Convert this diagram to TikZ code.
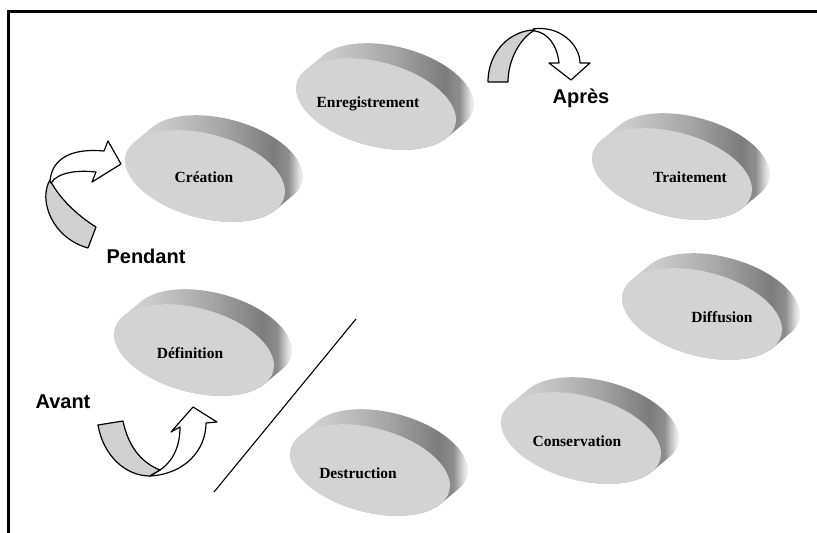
\documentclass[tikz,border=0pt]{standalone}
\usepackage{fontspec}
\setmainfont{Liberation Serif}
\newfontfamily\phasefont{Liberation Sans}

% colours of the discs and arrows
\definecolor{facegray}{HTML}{D3D3D3}
\definecolor{sideA}{HTML}{D8D8D8}
\definecolor{sideB}{HTML}{CACACA}
\definecolor{sideC}{HTML}{A6A6A6}
\definecolor{sideD}{HTML}{7C7C7C}
\definecolor{sideE}{HTML}{8E8E8E}
\definecolor{sideF}{HTML}{E4E4E4}
\definecolor{ribbongray}{HTML}{D0D0D0}

% light-to-dark gradient of a disc's rim (25bp..75bp spans the shaded box)
\pgfdeclarehorizontalshading{discside}{100bp}{%
  color(0bp)=(sideA); color(25bp)=(sideA); color(36bp)=(sideB);
  color(52bp)=(sideC); color(66bp)=(sideD); color(70bp)=(sideE);
  color(73bp)=(sideF); color(75bp)=(white); color(100bp)=(white)}

\tikzset{
  disclabel/.style={font=\fontsize{15.5}{17}\selectfont\bfseries, inner sep=0pt},
  phaselabel/.style={font=\phasefont\fontsize{20}{22}\selectfont\bfseries, inner sep=0pt},
  ribbonback/.style={fill=ribbongray, draw=black, line width=1.2pt, line join=round},
  ribbonfront/.style={fill=white, draw=black, line width=1.2pt, line join=round},
  frameline/.style={line width=3pt, line join=miter},
  divider/.style={line width=1.1pt}
}

% a tilted disc: shaded rim swept up-right, flat grey face, and its label
% #1,#2 face centre; #3,#4 label position; #5 text; #6 node name
\newcommand\lifedisc[6]{%
  \begin{scope}
    \clip \foreach \k in {0,...,20} {
      ({#1+\k*0.9},{#2-\k*0.75}) ellipse [x radius=82, y radius=42, rotate=-15] };
    \shade[shading=discside] ({#1-84},{#2-72}) rectangle ({#1+102},{#2+50});
  \end{scope}
  \fill[facegray] (#1,#2) ellipse [x radius=82, y radius=42, rotate=-15];
  \node[disclabel] (#6) at (#3,#4) {#5};
}

\begin{document}
\begin{tikzpicture}[x=1pt, y=-1pt]
  \useasboundingbox (0,0) rectangle (817,533);

  % frame: top and left edges only
  \draw[frameline] (817,11.5) -- (8.5,11.5) -- (8.5,533);

  % the seven stages of the cycle
  \lifedisc{376}{104}{368}{104}{Enregistrement}{enreg}
  \lifedisc{205}{176}{204}{177}{Création}{creation}
  \lifedisc{672}{174}{690}{177}{Traitement}{traitement}
  \lifedisc{702}{314}{722}{317}{Diffusion}{diffusion}
  \lifedisc{581}{438}{577}{441}{Conservation}{conservation}
  \lifedisc{370}{470}{358}{473}{Destruction}{destruction}
  \lifedisc{194}{350}{190}{353}{Définition}{definition}

  % line separating the end of the cycle from its start
  \coordinate (divtop) at (356,319);
  \coordinate (divbot) at (214,492);
  \draw[divider] (divtop) -- (divbot);

  % phase labels
  \node[phaselabel] (apres) at (581,98) {Après};
  \node[phaselabel] (pendant) at (146,256) {Pendant};
  \node[phaselabel] (avant) at (63,402) {Avant};

  % curved arrow near "Après"
  \draw[ribbonback] (488,82) -- (508,82) .. controls (508,60) and (520,38) .. (535,30)
    .. controls (512,30) and (488,50) .. (488,82) -- cycle;
  \draw[ribbonfront] (533,29) .. controls (560,25) and (580,45) .. (580,63)
    -- (590,63) -- (571,80) -- (549,63) -- (559,63)
    .. controls (557,45) and (548,33) .. (535,31) -- cycle;

  % curved arrow near "Pendant"
  \draw[ribbonback] (50,180) .. controls (38,200) and (52,238) .. (88,248)
    -- (96,227) .. controls (75,214) and (58,196) .. (50,180) -- cycle;
  \draw[ribbonfront] (50,181) .. controls (52,158) and (72,148) .. (104,151)
    -- (108,141) -- (121,164) -- (92,182) -- (96,172)
    .. controls (78,170) and (58,172) .. (51,183) -- cycle;

  % curved arrow near "Avant"
  \draw[ribbonback] (98,425) -- (123,421) .. controls (128,445) and (140,462) .. (160,470)
    -- (150,476) .. controls (125,476) and (103,455) .. (98,425) -- cycle;
  \draw[ribbonfront] (157,472) .. controls (174,462) and (180,445) .. (180,427)
    -- (171,432) -- (193,407) -- (217,422) -- (206,423)
    .. controls (206,450) and (185,474) .. (150,476) -- cycle;
\end{tikzpicture}
\end{document}
